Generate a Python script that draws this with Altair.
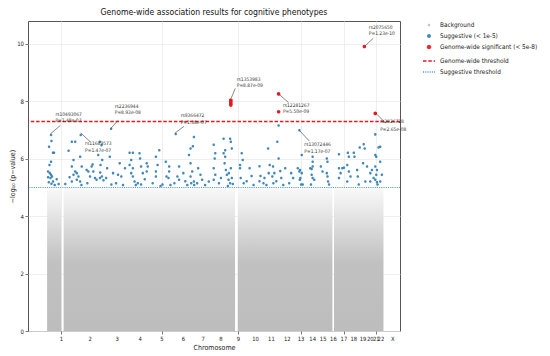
import altair as alt
import pandas as pd

FONT = "DejaVu Sans Condensed, DejaVu Sans"

# ---------------- data ----------------
chrom_labels = ["1", "2", "3", "4", "5", "6", "7", "8", "9", "10", "11", "12",
                "13", "14", "15", "16", "17", "18", "19", "20", "21", "22", "X"]
chrom_ticks = [33.7, 62.7, 90, 113.3, 135.3, 157, 177, 195, 212.7, 230, 246, 262,
               276, 287.7, 298.3, 308.7, 319.3, 329.3, 338.7, 346, 352, 356.7, 368.7]

# background (non-suggestive) SNP cloud, as blocks of the cumulative genome
bg_start = [19.3, 36, 212, 309.3]
bg_end = [33.7, 209.3, 307.7, 359.3]

# suggestive SNPs (cumulative position, -log10 p)
sugg_pos = [
    23.3, 23.7, 21.3, 25.3, 26.3, 23.3, 21.7, 20.3, 22, 23.3, 24.3, 20.3, 22.7, 25.3, 21, 23.7, 27, 29, 31,
    37.7, 41, 44.3, 47.7, 46, 44.3, 47.7, 46, 49.3, 51, 44.3, 49.3, 52.7, 42, 54, 52.7, 53.3, 54.3, 59.3,
    61, 62.7, 64.3, 66, 67.7, 69.3, 60, 65.3, 72.7, 74.3, 71, 75, 73.3, 73, 74.7, 72.7, 76.3,
    82.7, 84.3, 84, 80, 79, 86, 92.7, 91, 94.3, 89, 96, 98,
    102.7, 106, 104.3, 102.7, 106, 104.3, 106, 107.7, 111, 114.3, 112.7, 113.3, 114.3, 116, 120, 121, 120, 118, 109,
    129.3, 131, 129.3, 129.3, 132.7, 136, 139.3, 140, 142.7, 142.7, 142, 126, 134, 144,
    149.3, 152.7, 151, 152.7, 148, 162.7, 164.3, 166, 164.3, 167.7, 166.7, 167.7, 164.3, 159, 161, 168, 165, 157,
    174.3, 176, 182.7, 172, 179, 171,
    187.7, 188.7, 187.7, 189.3, 187.7, 189.3, 193, 195, 197.7, 199.3, 199.3, 198.7, 200, 201, 202.7, 204.3,
    197.7, 204.3, 205, 206, 203, 205, 206, 207, 202,
    214.3, 216, 217, 214.3, 215, 218, 224, 226, 221, 228,
    234, 235, 234, 242.7, 244.3, 243.3, 239, 241, 238,
    253.3, 252, 253.3, 249, 251, 256, 258, 260, 248, 255, 247.7, 247,
    274.3, 275, 276.7, 274.7, 276, 264, 268, 266, 276.7, 272.7, 274.3, 275.3, 277.7,
    285.3, 286.7, 287.7, 287.7, 287.7, 286.7, 287.7, 289.3, 286, 296, 297.7, 302, 302.7, 302, 302.7, 303.3, 304.3,
    314.3, 314.3, 316, 314.3, 317.7, 319.3, 323.3, 324.3, 322.7, 324.3, 322.7, 326, 329.3, 330, 332.7, 333.3, 334.3,
    335.3, 339.3, 340.3, 338.7, 342.7, 341, 346, 347.7, 346, 351, 351, 352, 351, 352.7, 352, 351, 352.7, 353.3,
    349.3, 354.3, 356, 356, 357.7, 356,
]
sugg_val = [
    6.83, 6.62, 6.42, 6.21, 6.21, 5.90, 5.78, 5.56, 5.50, 5.44, 5.38, 5.36, 5.33, 5.21, 5.18, 5.13, 5.09, 5.29, 5.12,
    5.12, 6.28, 6.59, 6.59, 5.96, 5.73, 5.56, 5.44, 5.50, 5.38, 5.21, 5.27, 5.21, 5.36, 5.09, 6.07, 6.83, 5.73, 5.61,
    5.56, 5.38, 5.73, 5.56, 5.33, 5.27, 5.15, 5.80, 6.59, 6.47, 6.13, 5.96, 5.78, 5.52, 5.38, 5.33, 5.25,
    6.07, 5.10, 7.05, 5.67, 5.33, 5.50, 5.84, 5.44, 5.38, 5.15, 5.09, 5.67,
    6.21, 6.21, 5.96, 5.78, 5.67, 5.50, 5.38, 5.21, 5.15, 5.10, 6.19, 6.01, 5.73, 5.50, 5.84, 5.73, 5.56, 5.29, 5.09,
    6.07, 5.78, 5.56, 5.38, 6.30, 5.10, 5.90, 5.38, 5.73, 5.56, 5.33, 5.15, 5.05, 5.09,
    6.86, 5.73, 5.38, 5.27, 5.15, 6.13, 5.84, 5.56, 5.38, 5.21, 6.44, 6.76, 6.36, 5.22, 5.09, 5.09, 5.15, 5.50,
    5.44, 5.27, 5.21, 5.67, 5.09, 5.15,
    6.49, 6.01, 5.67, 5.44, 5.27, 6.19, 5.15, 5.33, 6.70, 6.30, 6.07, 5.84, 5.61, 5.44, 5.27, 5.15,
    6.19, 6.70, 6.59, 6.36, 5.50, 5.67, 5.33, 5.12, 5.05,
    5.78, 6.19, 5.96, 5.67, 5.33, 5.15, 5.67, 5.40, 5.22, 5.09,
    5.74, 5.40, 5.22, 6.36, 5.78, 5.50, 5.33, 5.09, 5.15,
    7.16, 6.59, 6.01, 5.50, 5.22, 5.33, 5.09, 5.67, 5.15, 5.57, 5.73, 5.38,
    6.99, 5.61, 5.50, 5.27, 5.10, 5.15, 5.33, 5.50, 6.13, 5.67, 5.56, 5.33, 5.10,
    5.67, 5.64, 5.73, 5.90, 6.07, 5.44, 5.33, 5.27, 5.10, 5.73, 5.56, 6.01, 5.90, 5.50, 5.38, 5.21, 5.10,
    6.16, 5.67, 5.50, 5.33, 5.67, 5.69, 6.21, 6.07, 5.78, 5.56, 5.21, 5.38, 6.21, 6.07, 5.61, 5.38, 5.10,
    6.39, 6.51, 6.36, 5.84, 5.73, 5.21, 5.50, 5.61, 5.21, 6.85, 6.13, 6.07, 5.73, 5.61, 5.44, 5.27, 5.18, 5.10,
    5.33, 6.39, 6.42, 5.90, 5.44, 5.21,
]

# genome-wide significant SNPs
sig_pos = [205, 205, 205, 205, 253.3, 253.3, 340, 351]
sig_val = [8.05, 7.99, 7.93, 7.87, 8.26, 7.64, 9.91, 7.58]

# annotated SNPs
ann_snp = ["rs10493067", "rs11689573", "rs2236944", "rs9366472", "rs1353983",
           "rs12281267", "rs13072446", "rs2826728", "rs2075650"]
ann_p = ["P=1.48e-07", "P=1.47e-07", "P=8.93e-08", "P=1.38e-07", "P=8.87e-09",
         "P=5.50e-09", "P=1.17e-07", "P=2.65e-08", "P=1.23e-10"]
ann_tx = [27.7, 57.7, 87.7, 154.3, 211, 257.7, 279.3, 356, 344.5]
ann_ty1 = [7.53, 6.51, 7.81, 7.50, 8.76, 7.85, 6.47, 7.27, 10.56]
ann_ty2 = [7.31, 6.28, 7.58, 7.25, 8.53, 7.62, 6.24, 7.02, 10.34]
ann_lx = [22.7, 53.3, 83.3, 148.7, 205.5, 253.3, 274.3, 351.7, 340]
ann_ly = [6.87, 6.90, 7.04, 6.90, 8.12, 8.26, 6.99, 7.58, 9.91]
ann_lx2 = [32.7, 62.7, 91, 157.7, 209.5, 263.3, 284.3, 361, 349]
ann_ly2 = [7.16, 6.60, 7.34, 7.13, 8.45, 7.96, 6.62, 7.26, 10.20]

gw_threshold = 7.30103   # -log10(5e-8)
sugg_threshold = 5.0     # -log10(1e-5)

point_cats = ["Background", "Suggestive (< 1e-5)", "Genome-wide significant (< 5e-8)"]
point_colors = ["#bdbdbd", "#2c7bb6", "#e41a1c"]
point_shapes = [
    "M-0.22,0A0.22,0.22 0 1,0 0.22,0A0.22,0.22 0 1,0 -0.22,0Z",
    "M-0.33,0A0.33,0.33 0 1,0 0.33,0A0.33,0.33 0 1,0 -0.33,0Z",
    "M-0.38,0A0.38,0.38 0 1,0 0.38,0A0.38,0.38 0 1,0 -0.38,0Z",
]
line_cats = ["Genome-wide threshold", "Suggestive threshold"]
line_colors = ["#e41a1c", "#5a9ccc"]
line_dashes = [[3.5, 1.8], [1.1, 1.1]]
line_widths = [1.6, 1.1]

# ---------------- frames ----------------
bg_df = pd.DataFrame({"start": bg_start, "end": bg_end,
                      "low": [0.0] * len(bg_start), "high": [sugg_threshold] * len(bg_start)})
sugg_df = pd.DataFrame({"pos": sugg_pos, "val": sugg_val, "cat": point_cats[1]})
sig_df = pd.DataFrame({"pos": sig_pos, "val": sig_val, "cat": point_cats[2]})
ann_df = pd.DataFrame({"snp": ann_snp, "p": ann_p, "tx": ann_tx, "ty1": ann_ty1, "ty2": ann_ty2,
                       "lx": ann_lx, "ly": ann_ly, "lx2": ann_lx2, "ly2": ann_ly2})
thr_df = pd.DataFrame({"y": [gw_threshold, sugg_threshold], "line": line_cats})
chrom_df = pd.DataFrame({"tick": chrom_ticks, "label": chrom_labels})

x_scale = alt.Scale(domain=[0, 376], nice=False, zero=False)
y_scale = alt.Scale(domain=[0, 10.8], nice=False, zero=False)

x_axis = alt.Axis(values=[float(t) for t in chrom_ticks], labels=False, title="Chromosome",
                  tickSize=3, titlePadding=9, titleFontSize=7,
                  titleFontWeight="normal", domain=False)
y_axis = alt.Axis(values=[0, 2, 4, 6, 8, 10], title="−log₁₀ (p−value)", labelFontSize=6,
                  labelPadding=1.5, tickSize=3, titlePadding=1.5, titleFontSize=7,
                  titleFontWeight="normal", domain=False)

gradient = alt.LinearGradient(
    gradient="linear", x1=0, x2=0, y1=1, y2=0,
    stops=[alt.GradientStop(color="#bdbdbd", offset=0),
           alt.GradientStop(color="#c1c1c1", offset=0.48),
           alt.GradientStop(color="#cbcbcb", offset=0.58),
           alt.GradientStop(color="#d8d8d8", offset=0.70),
           alt.GradientStop(color="#e6e6e6", offset=0.82),
           alt.GradientStop(color="#f1f1f1", offset=0.92),
           alt.GradientStop(color="#f9f9f9", offset=1.0)])

background = alt.Chart(bg_df).mark_rect(color=gradient).encode(
    x=alt.X("start:Q", scale=x_scale, axis=x_axis),
    x2="end:Q",
    y=alt.Y("low:Q", scale=y_scale, axis=y_axis),
    y2="high:Q",
)

# chromosome tick labels, set just under the x axis
chrom_text = alt.Chart(chrom_df).mark_text(baseline="top", dy=4.5, fontSize=5.8, font=FONT,
                                           color="#222222").encode(
    x=alt.X("tick:Q", scale=x_scale), y=alt.datum(0, scale=y_scale), text="label:N")

legend_common = dict(title=None, orient="none", legendX=394, symbolSize=144, labelFont=FONT,
                     labelFontSize=6.4, labelColor="#222222", rowPadding=0, padding=0, labelOffset=4)
line_legend = alt.Legend(legendY=33, symbolType="stroke", symbolStrokeWidth=1.3, **legend_common)

thresholds = alt.Chart(thr_df).mark_rule().encode(
    y=alt.Y("y:Q", scale=y_scale),
    color=alt.Color("line:N", scale=alt.Scale(domain=line_cats, range=line_colors), legend=line_legend),
    strokeDash=alt.StrokeDash("line:N", scale=alt.Scale(domain=line_cats, range=line_dashes),
                              legend=line_legend),
    strokeWidth=alt.StrokeWidth("line:N", scale=alt.Scale(domain=line_cats, range=line_widths),
                                legend=None),
)

point_legend = alt.Legend(legendY=-3, **legend_common)
color_enc = alt.Color("cat:N", scale=alt.Scale(domain=point_cats, range=point_colors), legend=point_legend)
shape_enc = alt.Shape("cat:N", scale=alt.Scale(domain=point_cats, range=point_shapes), legend=point_legend)

sugg_pts = alt.Chart(sugg_df).mark_point(filled=True, size=58, opacity=0.9).encode(
    x=alt.X("pos:Q", scale=x_scale), y=alt.Y("val:Q", scale=y_scale),
    color=color_enc, shape=shape_enc)
sig_pts = alt.Chart(sig_df).mark_point(filled=True, size=90, opacity=1).encode(
    x=alt.X("pos:Q", scale=x_scale), y=alt.Y("val:Q", scale=y_scale),
    color=color_enc, shape=shape_enc)
points = alt.layer(sugg_pts, sig_pts)

ann_lines = alt.Chart(ann_df).mark_rule(color="#555555", strokeWidth=0.7).encode(
    x=alt.X("lx:Q", scale=x_scale), x2="lx2:Q", y=alt.Y("ly:Q", scale=y_scale), y2="ly2:Q")
ann_t1 = alt.Chart(ann_df).mark_text(align="left", baseline="middle", fontSize=4.9, font=FONT,
                                      color="#333333").encode(
    x=alt.X("tx:Q", scale=x_scale), y=alt.Y("ty1:Q", scale=y_scale), text="snp:N")
ann_t2 = alt.Chart(ann_df).mark_text(align="left", baseline="middle", fontSize=4.9, font=FONT,
                                      color="#333333").encode(
    x=alt.X("tx:Q", scale=x_scale), y=alt.Y("ty2:Q", scale=y_scale), text="p:N")

chart = alt.layer(background, thresholds, points, ann_lines, ann_t1, ann_t2, chrom_text).resolve_scale(
    color="independent", shape="independent", strokeDash="independent"
).properties(
    width=372, height=310,
    padding={"left": 0, "top": 0, "right": 0, "bottom": 0},
    title=alt.TitleParams("Genome-wide association results for cognitive phenotypes",
                          fontSize=8.6, fontWeight="normal", font=FONT, offset=1, color="#111111"),
).configure_view(stroke="#555555", strokeWidth=1).configure_axis(
    labelFont=FONT, titleFont=FONT, labelColor="#222222", titleColor="#222222",
    gridColor="#ebebeb", gridWidth=0.8, tickColor="#555555", tickWidth=0.8,
).configure_legend(labelFont=FONT)

chart.save("out.html", embed_options={"renderer": "svg", "actions": False})
